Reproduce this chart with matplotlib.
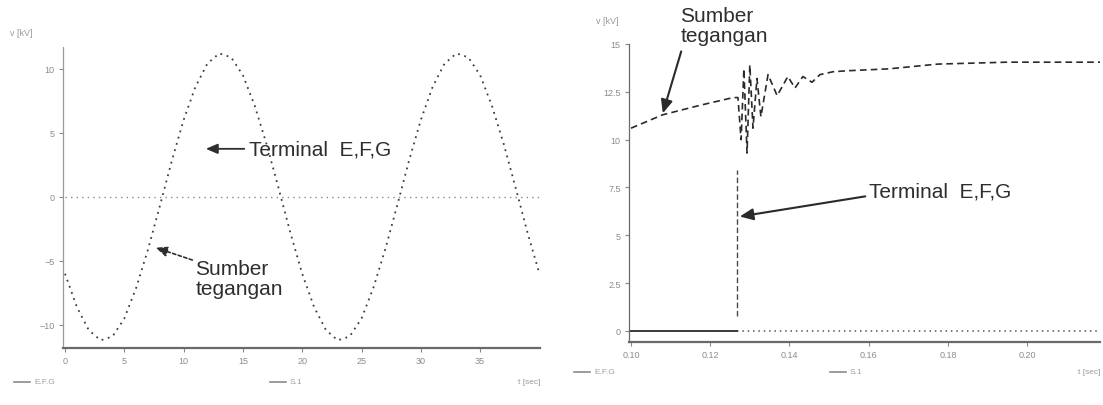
import matplotlib
matplotlib.use("Agg")
import matplotlib.pyplot as plt
from matplotlib.lines import Line2D

plt.rcParams["font.family"] = ["Liberation Sans", "DejaVu Sans"]

# ---- left panel: steady-state waveform (time in ms, voltage in kV) ----
sine_t = list(range(0, 41))
sine_v = [-6.0, -8.6, -10.4, -11.2, -10.9, -9.5, -7.1, -4.1, -0.7, 2.8,
          6.0, 8.6, 10.4, 11.2, 10.9, 9.5, 7.1, 4.1, 0.7, -2.8,
          -6.0, -8.6, -10.4, -11.2, -10.9, -9.5, -7.1, -4.1, -0.7, 2.8,
          6.0, 8.6, 10.4, 11.2, 10.9, 9.5, 7.1, 4.1, 0.7, -2.8, -6.0]
zero_left_t = [0, 40]
zero_left_v = [0, 0]
left_xticks = [0, 5, 10, 15, 20, 25, 30, 35]
left_yticks = [-10, -5, 0, 5, 10]

# ---- right panel: switching transient (time in s, voltage in kV) ----
src_t = [0.1000, 0.1080, 0.1175, 0.1258, 0.1270, 0.1278, 0.1285, 0.1293,
         0.1300, 0.1308, 0.1318, 0.1328, 0.1346, 0.1369, 0.1396, 0.1414,
         0.1434, 0.1457, 0.1477, 0.1510, 0.1545, 0.1650, 0.1775, 0.1950,
         0.2184]
src_v = [10.6, 11.3, 11.8, 12.2, 12.2, 10.0, 13.7, 9.3,
         13.9, 10.6, 13.2, 11.2, 13.4, 12.3, 13.3, 12.7,
         13.3, 13.0, 13.4, 13.55, 13.6, 13.7, 13.95, 14.05,
         14.05]
efg_pre_t = [0.0995, 0.1268]
efg_pre_v = [0.0, 0.0]
efg_jump_t = [0.1268, 0.1268]
efg_jump_v = [0.8, 8.4]
zero_right_t = [0.1268, 0.2184]
zero_right_v = [0.0, 0.0]
right_xticks = [0.10, 0.12, 0.14, 0.16, 0.18, 0.20]
right_yticks = [0, 2.5, 5, 7.5, 10, 12.5, 15]

W, H = 1103, 406
fig = plt.figure(figsize=(W / 100, H / 100), dpi=100)
fig.patch.set_facecolor("white")


def px_box(x0, y0, x1, y1):
    return [x0 / W, 1 - y1 / H, (x1 - x0) / W, (y1 - y0) / H]


def style_axes(ax):
    for side in ("top", "right"):
        ax.spines[side].set_visible(False)
    ax.spines["left"].set_color("#9a9a9a")
    ax.spines["left"].set_linewidth(0.9)
    ax.spines["bottom"].set_color("#6a6a6a")
    ax.spines["bottom"].set_linewidth(1.6)
    ax.tick_params(axis="both", length=3, width=0.8, color="#8a8a8a",
                   labelsize=6.5, labelcolor="#8c8c8c", pad=3)
    ax.set_facecolor("none")


TXT = dict(fontsize=15, color="#2e2e2e")

# ---------------- left panel ----------------
axL = fig.add_axes(px_box(63, 48, 540, 349))
style_axes(axL)
axL.plot(zero_left_t, zero_left_v, color="#8a8a8a", lw=1.0,
         linestyle=(0, (1, 3)))
axL.plot(sine_t, sine_v, color="#3c3c3c", lw=1.3, linestyle=(0, (1, 2.6)))
axL.set_xlim(-0.17, 40.05)
axL.set_ylim(-11.8, 11.7)
axL.set_xticks(left_xticks)
axL.set_yticks(left_yticks)

axL.annotate("", xy=(11.64, 3.75), xytext=(15.35, 3.75),
             arrowprops=dict(arrowstyle="-|>,head_length=0.7,head_width=0.3",
                             color="#2e2e2e", lw=1.3))
axL.text(15.5, 3.75, "Terminal  E,F,G", ha="left", va="center", **TXT)
axL.annotate("", xy=(7.42, -3.9), xytext=(10.96, -5.0),
             arrowprops=dict(arrowstyle="-|>,head_length=0.7,head_width=0.3",
                             color="#2e2e2e", lw=1.2, linestyle=(0, (2, 1.5))))
axL.text(11.0, -6.4, "Sumber\ntegangan", ha="left", va="center",
         linespacing=1.05, **TXT)

fig.text(10 / W, 1 - 33 / H, "v [kV]", fontsize=6.5, color="#9a9a9a",
         va="center")

# ---------------- right panel ----------------
axR = fig.add_axes(px_box(629, 45, 1100, 343))
style_axes(axR)
axR.spines["left"].set_color("#6a6a6a")
axR.plot(zero_right_t, zero_right_v, color="#555555", lw=1.1,
         linestyle=(0, (1, 2.5)))
axR.plot(efg_pre_t, efg_pre_v, color="#3a3a3a", lw=1.4)
axR.plot(efg_jump_t, efg_jump_v, color="#4a4a4a", lw=1.0,
         linestyle=(0, (4, 2)))
axR.plot(src_t, src_v, color="#2a2a2a", lw=1.2, linestyle=(0, (4, 2.5)))
axR.set_xlim(0.0995, 0.2184)
axR.set_ylim(-0.575, 15.0)
axR.set_xticks(right_xticks)
axR.set_xticklabels([f"{v:.2f}" for v in right_xticks])
axR.set_yticks(right_yticks)
axR.set_yticklabels(["0", "2.5", "5", "7.5", "10", "12.5", "15"])

axR.annotate("", xy=(0.10783, 11.24), xytext=(0.11288, 14.75),
             arrowprops=dict(arrowstyle="-|>,head_length=0.8,head_width=0.35",
                             color="#2a2a2a", lw=1.5), annotation_clip=False)
axR.text(0.1125, 15.95, "Sumber\ntegangan", ha="left", va="center",
         linespacing=1.05, clip_on=False, **TXT)
axR.annotate("", xy=(0.12677, 5.96), xytext=(0.15984, 7.06),
             arrowprops=dict(arrowstyle="-|>,head_length=0.8,head_width=0.35",
                             color="#2a2a2a", lw=1.5))
axR.text(0.1601, 7.32, "Terminal  E,F,G", ha="left", va="center", **TXT)

fig.text(596 / W, 1 - 22 / H, "v [kV]", fontsize=6.5, color="#9a9a9a",
         va="center")

# ---------------- legend rows under each panel ----------------
def legend_item(x0, y, label):
    fig.add_artist(Line2D([x0 / W, (x0 + 16) / W], [1 - y / H, 1 - y / H],
                          color="#8a8a8a", lw=1.2))
    fig.text((x0 + 20) / W, 1 - y / H, label, fontsize=6, color="#a0a0a0",
             va="center")


legend_item(14, 383, "E.F.G")
legend_item(270, 383, "S.1")
fig.text(540 / W, 1 - 383 / H, "t [sec]", fontsize=6, color="#9a9a9a",
         va="center", ha="right")
legend_item(574, 373, "E.F.G")
legend_item(830, 373, "S.1")
fig.text(1100 / W, 1 - 373 / H, "t [sec]", fontsize=6, color="#9a9a9a",
         va="center", ha="right")

fig.savefig("out.png", dpi=100, facecolor="white")
